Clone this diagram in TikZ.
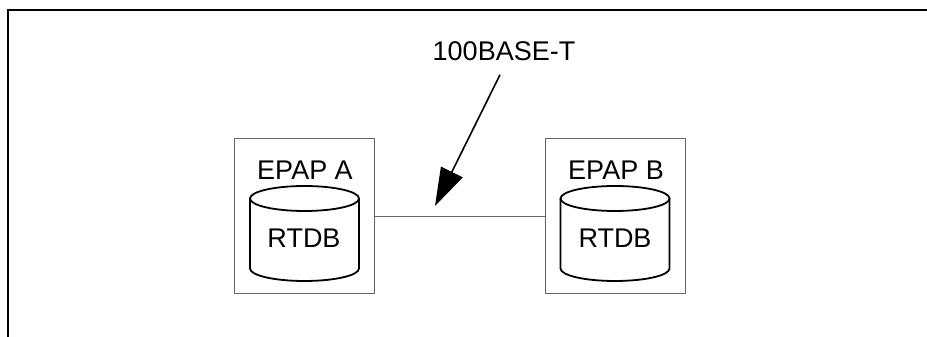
\documentclass[tikz,border=0pt]{standalone}
\usepackage{fontspec}
\setmainfont{Liberation Sans}
\usetikzlibrary{arrows.meta}
\begin{document}
\begin{tikzpicture}[x=1pt,y=1pt,
  lbl/.style={inner sep=0pt, font=\fontsize{27}{30}\selectfont},
  server/.style={draw=black!60, line width=1pt, minimum width=140pt, minimum height=155pt, inner sep=0pt},
  link/.style={draw=black!60, line width=1pt},
  pointer/.style={line width=1.6pt, -{Triangle[length=38pt,width=24pt]}},
  frame/.style={line width=1.7pt, black},
  cyl/.pic={
    \draw[line width=1.8pt] (0,35) ellipse [x radius=54.5pt, y radius=12.5pt];
    \draw[line width=1.8pt] (-54.5,35) -- (-54.5,-35) arc[start angle=180, end angle=360, x radius=54.5pt, y radius=12.5pt] -- (54.5,35);
  }]
\useasboundingbox (0,0) rectangle (927,337);
% outer frame
\draw[frame] (8,0) -- (8,327) -- (927,327);
% servers
\node[server] (boxA) at (304,120.5) {};
\node[server] (boxB) at (615,120.5) {};
\pic at (304.5,103.5) {cyl};
\pic at (615,103.5) {cyl};
\node[lbl] (titleA) at (305,166.5) {EPAP A};
\node[lbl] (titleB) at (616,166.5) {EPAP B};
\node[lbl] (dbA) at (304,99) {RTDB};
\node[lbl] (dbB) at (615,99) {RTDB};
% link
\draw[link] (boxA.east) -- (boxB.west);
% label and arrow
\node[lbl] (net) at (504,286) {100BASE-T};
\coordinate (tip) at (435,131);
\draw[pointer] ([shift={(-4pt,-14pt)}]net.south) -- (tip);
\end{tikzpicture}
\end{document}
